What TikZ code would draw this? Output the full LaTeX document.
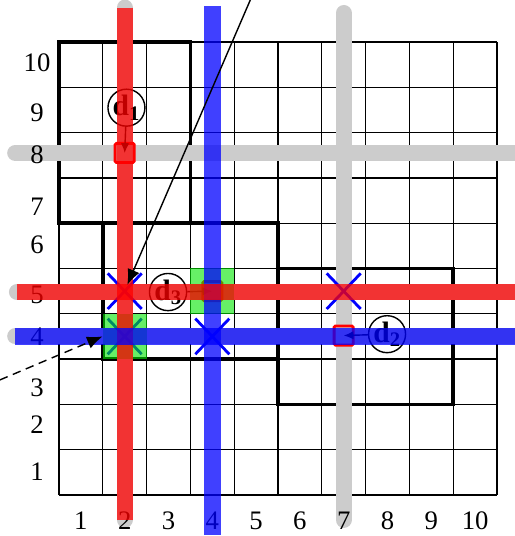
\documentclass[tikz,border=0pt]{standalone}
\usepackage{fontspec}
\setmainfont{Liberation Serif}
\usetikzlibrary{arrows.meta,shapes.misc}

\begin{document}
\begin{tikzpicture}[x=1.095cm,y=1.1325cm,
	gband/.style={line width=11.4pt,gray!40,line cap=round},
	rband/.style={line width=11.4pt,red,opacity=0.75},
	bband/.style={line width=11.8pt,blue,opacity=0.75},
	box/.style={draw,line width=2.6pt},
	lab/.style={font=\fontsize{19}{19}\selectfont},
	cell/.style={fill={rgb,255:red,0;green,230;blue,0},fill opacity=0.6,minimum width=1.095cm,minimum height=1.1325cm,inner sep=0pt},
	sq/.style={draw=red,line width=2pt,rounded corners=1pt,minimum size=0.48cm,inner sep=0pt},
	tag/.style={draw,circle,line width=1pt,minimum size=0.84cm,inner sep=0pt,font=\fontsize{21}{21}\selectfont\bfseries},
	hit/.style={draw=blue,cross out,line width=2pt,minimum width=0.78cm,minimum height=0.82cm,inner sep=0pt}]
	\useasboundingbox (-1.347,-0.905) rectangle (10.388,10.927);
	\draw[line width=0.9pt,step={(1,1)}] (0,0) grid (10,10);
	\draw[box] (0,6) rectangle (3,10);
	\draw[box] (1,3) rectangle (5,6);
	\draw[box] (5,2) rectangle (9,5);
	\draw[gband] (-1.0,7.55) -- (10.6,7.55);
	\draw[gband] (6.5,10.64) -- (6.5,-0.55);
	\draw[gband] (1.5,10.76) -- (1.5,-0.55);
	\draw[gband] (-0.96,4.48) -- (10.6,4.48);
	\draw[gband] (-1.0,3.5) -- (10.6,3.5);
	\node[lab] (r1) at (-0.5,0.51) {1};
	\node[lab] (r2) at (-0.5,1.55) {2};
	\node[lab] (r3) at (-0.5,2.36) {3};
	\node[lab] (r4) at (-0.5,3.49) {4};
	\node[lab] (r5) at (-0.5,4.42) {5};
	\node[lab] (r6) at (-0.5,5.52) {6};
	\node[lab] (r7) at (-0.5,6.36) {7};
	\node[lab] (r8) at (-0.5,7.51) {8};
	\node[lab] (r9) at (-0.5,8.43) {9};
	\node[lab] (r10) at (-0.5,9.54) {10};
	\node[lab] (c1) at (0.5,-0.57) {1};
	\node[lab] (c2) at (1.5,-0.57) {2};
	\node[lab] (c3) at (2.5,-0.57) {3};
	\node[lab] (c4) at (3.5,-0.57) {4};
	\node[lab] (c5) at (4.5,-0.57) {5};
	\node[lab] (c6) at (5.5,-0.57) {6};
	\node[lab] (c7) at (6.5,-0.57) {7};
	\node[lab] (c8) at (7.5,-0.57) {8};
	\node[lab] (c9) at (8.5,-0.57) {9};
	\node[lab] (c10) at (9.5,-0.57) {10};
	\node[sq] (s1) at (1.5,7.55) {};
	\node[sq] (s3) at (3.5,4.5) {};
	\node[sq] (s2) at (6.5,3.52) {};
	\node[tag] (d1) at (1.54,8.55) {d\textsubscript{1}};
	\node[tag] (d3) at (2.49,4.48) {d\textsubscript{3}};
	\node[tag] (d2) at (7.49,3.55) {d\textsubscript{2}};
	\path[line width=1pt,-{Latex[length=7pt,width=6pt]}]
	(d1) edge (s1.center)
	(d3) edge (s3.center)
	(d2) edge (s2.center);
	\node[hit] (x25) at (1.5,4.5) {};
	\node[hit] (x24) at (1.5,3.5) {};
	\node[hit] (x44) at (3.5,3.5) {};
	\node[hit] (x75) at (6.5,4.5) {};
	\node[cell] (g24) at (1.5,3.5) {};
	\node[cell] (g45) at (3.5,4.5) {};
	\draw[rband] (1.5,10.76) -- (1.5,-0.55);
	\draw[bband] (3.5,10.79) -- (3.5,-0.88);
	\draw[rband] (-0.96,4.48) -- (10.6,4.48);
	\draw[bband] (-1.0,3.5) -- (10.6,3.5);
	\coordinate (top) at (4.4,11.0);
	\coordinate (tip) at (1.56,4.64);
	\coordinate (far) at (-1.35,2.54);
	\path[line width=1pt,-{Latex[length=11pt,width=9pt]}]
	(top) edge (tip)
	(far) edge[dashed,dash pattern=on 6pt off 4pt] (g24.west);
\end{tikzpicture}
\end{document}
